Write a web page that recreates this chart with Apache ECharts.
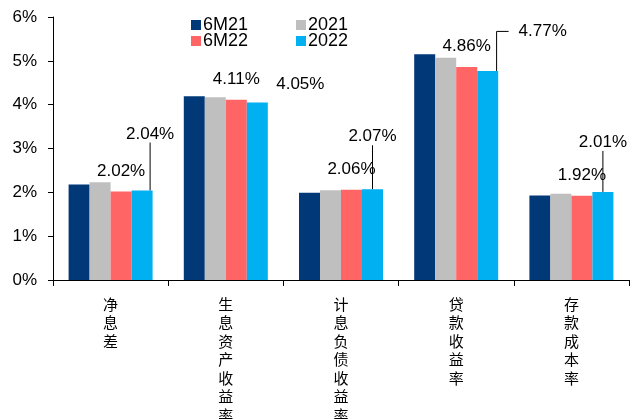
<!DOCTYPE html>
<html>
<head>
<meta charset="utf-8">
<script src="https://cdn.jsdelivr.net/npm/echarts@6/dist/echarts.min.js"></script>
<style>
html,body{margin:0;padding:0;background:#fff;}
#chart{width:632px;height:419px;}
</style>
</head>
<body>
<div id="chart"></div>
<script>
var categories = ['净息差', '生息资产收益率', '计息负债收益率', '贷款收益率', '存款成本率'];
var seriesNames = ['6M21', '2021', '6M22', '2022'];
var s6M21 = [2.18, 4.19, 1.99, 5.15, 1.93];
var s2021 = [2.23, 4.17, 2.05, 5.07, 1.97];
var s6M22 = [2.02, 4.11, 2.06, 4.86, 1.92];
var s2022 = [2.04, 4.05, 2.07, 4.77, 2.01];
var yTicks = [0, 1, 2, 3, 4, 5, 6];

// label placement (style, not data)
var offsets2022 = [[8, -43], [43, -5], [0, -39], [50, -26], [0, -36]];
var line2022 = [true, false, true, true, true];
var elbow2022 = [0, 0, 0, 12, 0];
var pad2022 = [0, 0, 0, 10, 0];

var colors = ['#003878', '#BFBFBF', '#FF6565', '#00B0F0'];
var FONT = 'Liberation Sans, Arial, sans-serif';

function fmt(p) { return p.value.toFixed(2) + '%'; }

var data2022 = s2022.map(function (v, i) {
  return {
    value: v,
    label: { padding: [0, 0, 0, pad2022[i]], backgroundColor: 'rgba(255,255,255,0)' },
    labelLine: { show: line2022[i], length2: elbow2022[i] }
  };
});

var legendText = { fontSize: 18, color: '#000', fontFamily: FONT, padding: [0, 0, 0, -3] };

var chart = echarts.init(document.getElementById('chart'));
chart.setOption({
  animation: false,
  backgroundColor: '#fff',
  color: colors,
  textStyle: { fontFamily: FONT, color: '#000' },
  grid: { left: 53, right: 3, top: 17, bottom: 139, containLabel: false, outerBoundsMode: 'none' },
  legend: [
    {
      data: ['6M21', '6M22'], orient: 'vertical', left: 186, top: 11,
      itemWidth: 10, itemHeight: 10, itemGap: -2, icon: 'rect',
      textStyle: legendText
    },
    {
      data: ['2021', '2022'], orient: 'vertical', left: 291, top: 11,
      itemWidth: 10, itemHeight: 10, itemGap: -2, icon: 'rect',
      textStyle: legendText
    }
  ],
  xAxis: {
    type: 'category',
    data: categories,
    axisLine: { lineStyle: { color: '#000', width: 1 } },
    axisTick: { show: true, length: 6, lineStyle: { color: '#000' } },
    axisLabel: {
      interval: 0, margin: 15, fontSize: 15, lineHeight: 18.5, color: '#000',
      fontFamily: 'Noto Sans CJK SC',
      formatter: function (v) { return v.split('').join('\n'); }
    }
  },
  yAxis: {
    type: 'value', min: yTicks[0], max: yTicks[yTicks.length - 1], interval: 1,
    axisLine: { show: true, lineStyle: { color: '#000', width: 1 } },
    axisTick: { show: true, length: 5, lineStyle: { color: '#000' } },
    splitLine: { show: false },
    axisLabel: { fontSize: 17, color: '#000', margin: 16, fontFamily: FONT,
      formatter: function (v) { return v + '%'; } }
  },
  series: [
    { name: '6M21', type: 'bar', data: s6M21, barWidth: 21, barGap: '0%' },
    { name: '2021', type: 'bar', data: s2021, barWidth: 21, barGap: '0%' },
    { name: '6M22', type: 'bar', data: s6M22, barWidth: 21, barGap: '0%',
      label: { show: true, position: 'top', distance: 12, fontSize: 17, color: '#000', fontFamily: FONT, formatter: fmt } },
    { name: '2022', type: 'bar', data: data2022, barWidth: 21, barGap: '0%',
      label: { show: true, position: 'top', distance: 5, fontSize: 17, color: '#000', fontFamily: FONT, formatter: fmt },
      labelLine: { show: true, lineStyle: { color: '#000', width: 1 } },
      labelLayout: function (p) {
        var o = offsets2022[p.dataIndex];
        return { dx: o[0], dy: o[1] };
      } }
  ]
});
</script>
</body>
</html>
